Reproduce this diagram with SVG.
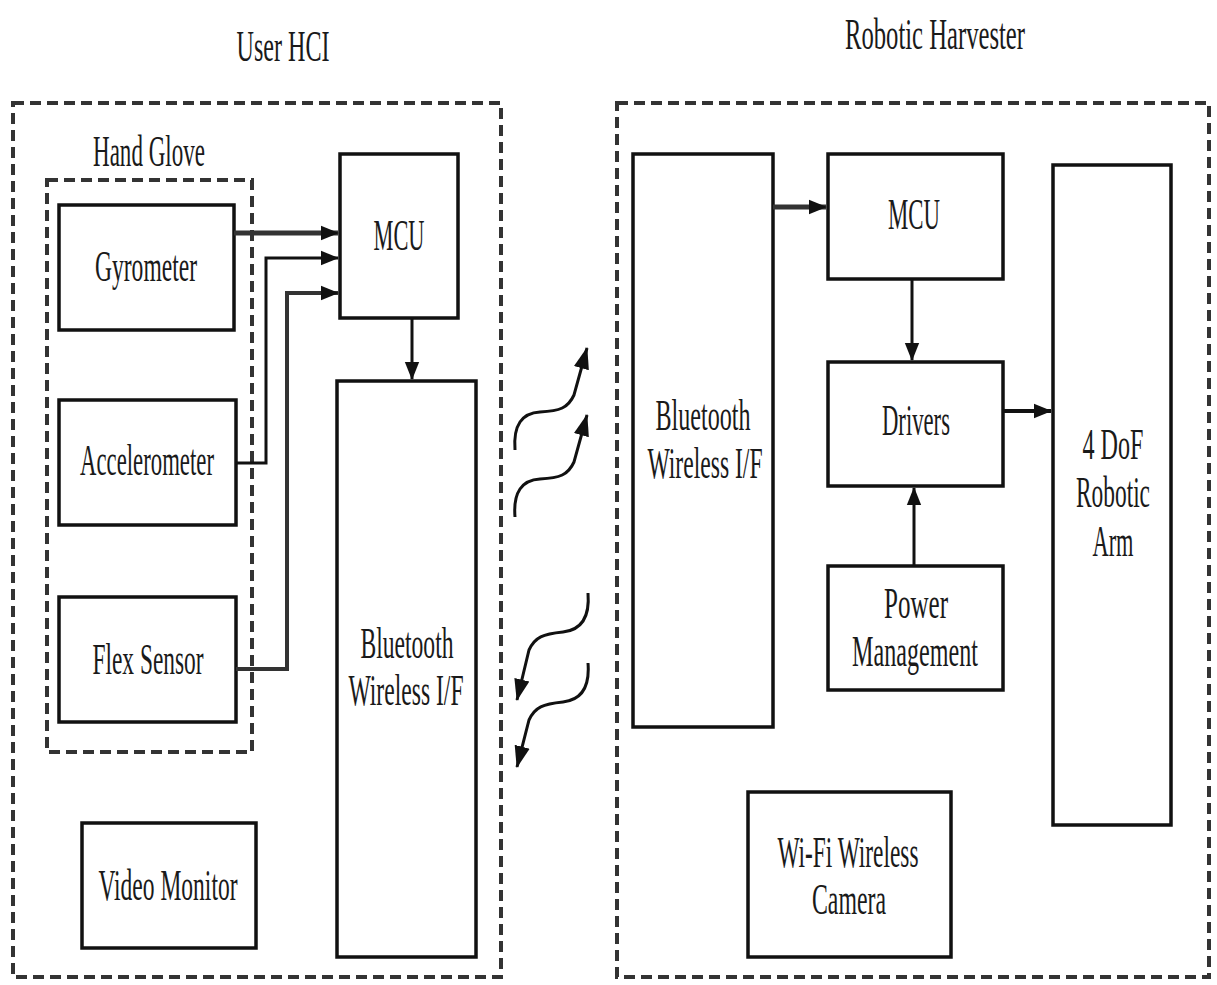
<svg xmlns="http://www.w3.org/2000/svg" width="1217" height="985" viewBox="0 0 1217 985">
<style>
  .box{fill:#fff;stroke:#111;stroke-width:3.5}
  .dash{fill:none;stroke:#333;stroke-width:4;stroke-dasharray:11,6}
  .t{font-family:"Liberation Serif","Times New Roman",serif;font-size:45px;fill:#1a1a1a;text-anchor:middle}
  .c{fill:none;stroke:#111;stroke-width:3}
  .w{fill:none;stroke:#111;stroke-width:3}
</style>
<defs>
  <marker id="a" viewBox="0 0 10 10" refX="9.5" refY="5" markerWidth="18" markerHeight="18" orient="auto" markerUnits="userSpaceOnUse">
    <path d="M0,1 L10,5 L0,9 z" fill="#111"/>
  </marker>
  <marker id="aw" viewBox="0 0 10 10" refX="9.5" refY="5" markerWidth="22" markerHeight="22" orient="auto" markerUnits="userSpaceOnUse">
    <path d="M0,1.5 L10,5 L0,8.5 z" fill="#111"/>
  </marker>
</defs>

<g id="user-hci">
  <rect class="dash" x="13" y="103" width="488" height="874"/>
  <text class="t" x="283" y="61" textLength="93" lengthAdjust="spacingAndGlyphs">User HCI</text>
</g>
<g id="hand-glove">
  <rect class="dash" x="47" y="180" width="205" height="572"/>
  <text class="t" x="149" y="166" textLength="112" lengthAdjust="spacingAndGlyphs">Hand Glove</text>
</g>
<g id="robotic-harvester">
  <rect class="dash" x="617" y="103" width="592" height="874"/>
  <text class="t" x="935" y="49" textLength="180" lengthAdjust="spacingAndGlyphs">Robotic Harvester</text>
</g>

<g id="gyrometer">
  <rect class="box" x="59" y="205" width="175" height="125"/>
  <text class="t" x="146" y="281" textLength="102" lengthAdjust="spacingAndGlyphs">Gyrometer</text>
</g>
<g id="accelerometer">
  <rect class="box" x="59" y="400" width="177" height="125"/>
  <text class="t" x="147" y="475" textLength="134" lengthAdjust="spacingAndGlyphs">Accelerometer</text>
</g>
<g id="flex-sensor">
  <rect class="box" x="59" y="597" width="177" height="125"/>
  <text class="t" x="148" y="674" textLength="111" lengthAdjust="spacingAndGlyphs">Flex Sensor</text>
</g>
<g id="video-monitor">
  <rect class="box" x="82" y="823" width="174" height="125"/>
  <text class="t" x="168" y="900" textLength="139" lengthAdjust="spacingAndGlyphs">Video Monitor</text>
</g>
<g id="mcu-user">
  <rect class="box" x="340" y="154" width="118" height="164"/>
  <text class="t" x="399" y="250" textLength="51" lengthAdjust="spacingAndGlyphs">MCU</text>
</g>
<g id="bt-user">
  <rect class="box" x="337" y="381" width="139" height="576"/>
  <text class="t" x="407" y="658" textLength="93" lengthAdjust="spacingAndGlyphs">Bluetooth</text>
  <text class="t" x="406" y="705" textLength="115" lengthAdjust="spacingAndGlyphs">Wireless I/F</text>
</g>

<g id="bt-robot">
  <rect class="box" x="633" y="154" width="140" height="573"/>
  <text class="t" x="703" y="430" textLength="95" lengthAdjust="spacingAndGlyphs">Bluetooth</text>
  <text class="t" x="705" y="478" textLength="115" lengthAdjust="spacingAndGlyphs">Wireless I/F</text>
</g>
<g id="mcu-robot">
  <rect class="box" x="828" y="154" width="175" height="125"/>
  <text class="t" x="914" y="229" textLength="52" lengthAdjust="spacingAndGlyphs">MCU</text>
</g>
<g id="drivers">
  <rect class="box" x="828" y="362" width="175" height="124"/>
  <text class="t" x="916" y="435" textLength="68" lengthAdjust="spacingAndGlyphs">Drivers</text>
</g>
<g id="power-management">
  <rect class="box" x="828" y="566" width="175" height="124"/>
  <text class="t" x="916" y="618" textLength="64" lengthAdjust="spacingAndGlyphs">Power</text>
  <text class="t" x="915" y="666" textLength="126" lengthAdjust="spacingAndGlyphs">Management</text>
</g>
<g id="robotic-arm">
  <rect class="box" x="1053" y="165" width="118" height="660"/>
  <text class="t" x="1113" y="459" textLength="61" lengthAdjust="spacingAndGlyphs">4 DoF</text>
  <text class="t" x="1113" y="507" textLength="74" lengthAdjust="spacingAndGlyphs">Robotic</text>
  <text class="t" x="1113" y="556" textLength="41" lengthAdjust="spacingAndGlyphs">Arm</text>
</g>
<g id="wifi-camera">
  <rect class="box" x="748" y="792" width="203" height="165"/>
  <text class="t" x="848" y="867" textLength="141" lengthAdjust="spacingAndGlyphs">Wi-Fi Wireless</text>
  <text class="t" x="849" y="914" textLength="74" lengthAdjust="spacingAndGlyphs">Camera</text>
</g>

<g id="connectors">
  <path class="c" style="stroke-width:5;stroke:#333" d="M234,233 H338" marker-end="url(#a)"/>
  <path class="c" d="M236,463 H266 V258 H338" marker-end="url(#a)"/>
  <path class="c" style="stroke-width:4;stroke:#333" d="M236,669 H287 V293 H338" marker-end="url(#a)"/>
  <path class="c" d="M412,318 V379" marker-end="url(#a)"/>
  <path class="c" style="stroke-width:5;stroke:#333" d="M773,207 H826" marker-end="url(#a)"/>
  <path class="c" d="M912,279 V360" marker-end="url(#a)"/>
  <path class="c" style="stroke-width:4" d="M1003,411 H1051" marker-end="url(#a)"/>
  <path class="c" d="M914,566 V488" marker-end="url(#a)"/>
  <path class="w" d="M515,450 C513,425 522,413 540,412 C560,411 568,408 574,395 L587,348" marker-end="url(#aw)"/>
  <path class="w" d="M515,517 C513,492 522,480 540,479 C560,478 568,475 574,462 L587,415" marker-end="url(#aw)"/>
  <path class="w" d="M588,593 C590,618 581,630 563,632 C543,634 535,637 529,650 L517,700" marker-end="url(#aw)"/>
  <path class="w" d="M588,663 C590,688 581,700 563,702 C543,704 535,707 529,720 L517,767" marker-end="url(#aw)"/>
</g>
</svg>
